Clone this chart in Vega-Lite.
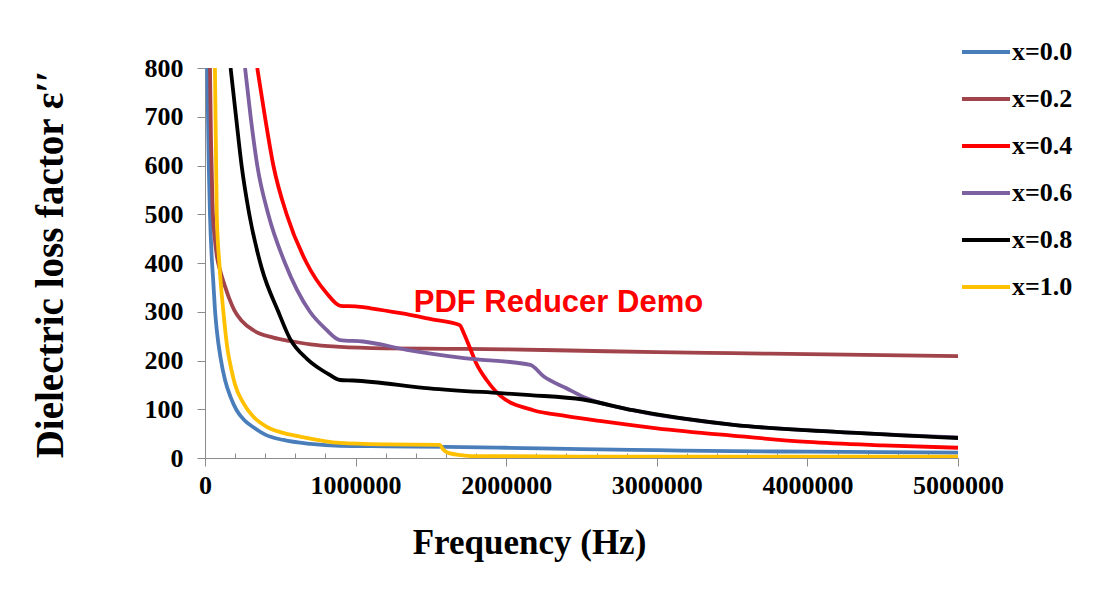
{
  "$schema": "https://vega.github.io/schema/vega-lite/v6.json",
  "autosize": {"type": "none"},
  "width": 753,
  "height": 390,
  "padding": {"left": 205, "top": 68, "right": 148, "bottom": 143},
  "background": "white",
  "config": {"view": {"stroke": null}},
  "resolve": {"axis": {"x": "independent"}},
  "datasets": {
    "curves": [
      {"series": "x=0.0", "f": 15000, "e": 800},
      {"series": "x=0.0", "f": 25000, "e": 600},
      {"series": "x=0.0", "f": 33000, "e": 500},
      {"series": "x=0.0", "f": 45000, "e": 410},
      {"series": "x=0.0", "f": 55000, "e": 362},
      {"series": "x=0.0", "f": 66000, "e": 305},
      {"series": "x=0.0", "f": 78000, "e": 263},
      {"series": "x=0.0", "f": 104000, "e": 204},
      {"series": "x=0.0", "f": 133000, "e": 160},
      {"series": "x=0.0", "f": 170000, "e": 125},
      {"series": "x=0.0", "f": 210000, "e": 98},
      {"series": "x=0.0", "f": 260000, "e": 78},
      {"series": "x=0.0", "f": 321000, "e": 63},
      {"series": "x=0.0", "f": 400000, "e": 48},
      {"series": "x=0.0", "f": 520000, "e": 37},
      {"series": "x=0.0", "f": 700000, "e": 29},
      {"series": "x=0.0", "f": 896000, "e": 25},
      {"series": "x=0.0", "f": 1200000, "e": 24},
      {"series": "x=0.0", "f": 1600000, "e": 23},
      {"series": "x=0.0", "f": 2000000, "e": 21},
      {"series": "x=0.0", "f": 2500000, "e": 18},
      {"series": "x=0.0", "f": 3000000, "e": 16},
      {"series": "x=0.0", "f": 3500000, "e": 14},
      {"series": "x=0.0", "f": 4000000, "e": 13},
      {"series": "x=0.0", "f": 4500000, "e": 12},
      {"series": "x=0.0", "f": 5000000, "e": 11},

      {"series": "x=0.2", "f": 33000, "e": 800},
      {"series": "x=0.2", "f": 40000, "e": 650},
      {"series": "x=0.2", "f": 50000, "e": 520},
      {"series": "x=0.2", "f": 65000, "e": 450},
      {"series": "x=0.2", "f": 80000, "e": 412},
      {"series": "x=0.2", "f": 100000, "e": 385},
      {"series": "x=0.2", "f": 133000, "e": 352},
      {"series": "x=0.2", "f": 160000, "e": 328},
      {"series": "x=0.2", "f": 195000, "e": 303},
      {"series": "x=0.2", "f": 245000, "e": 281},
      {"series": "x=0.2", "f": 321000, "e": 262},
      {"series": "x=0.2", "f": 454000, "e": 247},
      {"series": "x=0.2", "f": 564000, "e": 240},
      {"series": "x=0.2", "f": 700000, "e": 233},
      {"series": "x=0.2", "f": 896000, "e": 228},
      {"series": "x=0.2", "f": 1200000, "e": 225},
      {"series": "x=0.2", "f": 1600000, "e": 224},
      {"series": "x=0.2", "f": 2000000, "e": 223},
      {"series": "x=0.2", "f": 2500000, "e": 220},
      {"series": "x=0.2", "f": 3000000, "e": 217},
      {"series": "x=0.2", "f": 3500000, "e": 215},
      {"series": "x=0.2", "f": 4000000, "e": 213},
      {"series": "x=0.2", "f": 4500000, "e": 211},
      {"series": "x=0.2", "f": 5000000, "e": 209},

      {"series": "x=0.4", "f": 347000, "e": 800},
      {"series": "x=0.4", "f": 398000, "e": 700},
      {"series": "x=0.4", "f": 454000, "e": 600},
      {"series": "x=0.4", "f": 542000, "e": 500},
      {"series": "x=0.4", "f": 675000, "e": 400},
      {"series": "x=0.4", "f": 808000, "e": 338},
      {"series": "x=0.4", "f": 900000, "e": 312},
      {"series": "x=0.4", "f": 1000000, "e": 311},
      {"series": "x=0.4", "f": 1100000, "e": 307},
      {"series": "x=0.4", "f": 1300000, "e": 297},
      {"series": "x=0.4", "f": 1500000, "e": 285},
      {"series": "x=0.4", "f": 1690000, "e": 273},
      {"series": "x=0.4", "f": 1720000, "e": 255},
      {"series": "x=0.4", "f": 1760000, "e": 225},
      {"series": "x=0.4", "f": 1800000, "e": 195},
      {"series": "x=0.4", "f": 1870000, "e": 160},
      {"series": "x=0.4", "f": 1960000, "e": 128},
      {"series": "x=0.4", "f": 2180000, "e": 98},
      {"series": "x=0.4", "f": 2400000, "e": 86},
      {"series": "x=0.4", "f": 2620000, "e": 76},
      {"series": "x=0.4", "f": 3000000, "e": 61},
      {"series": "x=0.4", "f": 3500000, "e": 46},
      {"series": "x=0.4", "f": 4000000, "e": 33},
      {"series": "x=0.4", "f": 4500000, "e": 26},
      {"series": "x=0.4", "f": 5000000, "e": 21},

      {"series": "x=0.6", "f": 266000, "e": 800},
      {"series": "x=0.6", "f": 303000, "e": 700},
      {"series": "x=0.6", "f": 347000, "e": 600},
      {"series": "x=0.6", "f": 420000, "e": 500},
      {"series": "x=0.6", "f": 531000, "e": 400},
      {"series": "x=0.6", "f": 697000, "e": 300},
      {"series": "x=0.6", "f": 800000, "e": 265},
      {"series": "x=0.6", "f": 896000, "e": 242},
      {"series": "x=0.6", "f": 1050000, "e": 239},
      {"series": "x=0.6", "f": 1340000, "e": 222},
      {"series": "x=0.6", "f": 1720000, "e": 205},
      {"series": "x=0.6", "f": 2160000, "e": 191},
      {"series": "x=0.6", "f": 2250000, "e": 167},
      {"series": "x=0.6", "f": 2400000, "e": 143},
      {"series": "x=0.6", "f": 2530000, "e": 123},
      {"series": "x=0.6", "f": 2840000, "e": 98},
      {"series": "x=0.6", "f": 3510000, "e": 68},
      {"series": "x=0.6", "f": 4170000, "e": 54},
      {"series": "x=0.6", "f": 5000000, "e": 42},

      {"series": "x=0.8", "f": 170000, "e": 800},
      {"series": "x=0.8", "f": 206000, "e": 700},
      {"series": "x=0.8", "f": 243000, "e": 600},
      {"series": "x=0.8", "f": 294000, "e": 500},
      {"series": "x=0.8", "f": 376000, "e": 390},
      {"series": "x=0.8", "f": 487000, "e": 300},
      {"series": "x=0.8", "f": 564000, "e": 245},
      {"series": "x=0.8", "f": 675000, "e": 204},
      {"series": "x=0.8", "f": 742000, "e": 187},
      {"series": "x=0.8", "f": 820000, "e": 172},
      {"series": "x=0.8", "f": 896000, "e": 160},
      {"series": "x=0.8", "f": 985000, "e": 159},
      {"series": "x=0.8", "f": 1490000, "e": 143},
      {"series": "x=0.8", "f": 1960000, "e": 133},
      {"series": "x=0.8", "f": 2160000, "e": 129},
      {"series": "x=0.8", "f": 2510000, "e": 120},
      {"series": "x=0.8", "f": 2840000, "e": 98},
      {"series": "x=0.8", "f": 3510000, "e": 68},
      {"series": "x=0.8", "f": 4170000, "e": 54},
      {"series": "x=0.8", "f": 5000000, "e": 41},

      {"series": "x=1.0", "f": 66000, "e": 800},
      {"series": "x=1.0", "f": 72000, "e": 650},
      {"series": "x=1.0", "f": 78000, "e": 500},
      {"series": "x=1.0", "f": 95000, "e": 400},
      {"series": "x=1.0", "f": 122000, "e": 300},
      {"series": "x=1.0", "f": 150000, "e": 222},
      {"series": "x=1.0", "f": 166000, "e": 195},
      {"series": "x=1.0", "f": 200000, "e": 150},
      {"series": "x=1.0", "f": 254000, "e": 113},
      {"series": "x=1.0", "f": 320000, "e": 85},
      {"series": "x=1.0", "f": 410000, "e": 64},
      {"series": "x=1.0", "f": 500000, "e": 53},
      {"series": "x=1.0", "f": 631000, "e": 44},
      {"series": "x=1.0", "f": 896000, "e": 31},
      {"series": "x=1.0", "f": 1200000, "e": 28},
      {"series": "x=1.0", "f": 1560000, "e": 27},
      {"series": "x=1.0", "f": 1580000, "e": 18},
      {"series": "x=1.0", "f": 1620000, "e": 10},
      {"series": "x=1.0", "f": 1700000, "e": 6},
      {"series": "x=1.0", "f": 1780000, "e": 4},
      {"series": "x=1.0", "f": 2500000, "e": 3},
      {"series": "x=1.0", "f": 5000000, "e": 3}
    ],
    "note": [
      {"f": 2347000, "e": 300, "label": "PDF Reducer Demo"}
    ]
  },
  "layer": [
    {
      "data": {"name": "curves"},
      "mark": {"type": "line", "strokeWidth": 3.8, "interpolate": "monotone", "clip": true},
      "encoding": {
        "x": {
          "field": "f", "type": "quantitative",
          "scale": {"domain": [0, 5000000], "nice": false},
          "axis": {
            "orient": "bottom",
            "values": [0, 1000000, 2000000, 3000000, 4000000, 5000000],
            "format": "d",
            "labelOverlap": false,
            "labelFlush": false,
            "tickSize": 8,
            "grid": false,
            "domainColor": "#8c8c8c",
            "tickColor": "#8c8c8c",
            "labelFont": "Liberation Serif",
            "labelFontWeight": "bold",
            "labelFontSize": 26,
            "labelColor": "#000000",
            "labelPadding": 6,
            "title": "Frequency (Hz)",
            "titleFont": "Liberation Serif",
            "titleFontWeight": "bold",
            "titleFontSize": 35,
            "titleColor": "#000000",
            "titleX": 324,
            "titleY": 95,
            "titleAlign": "center",
            "titleBaseline": "alphabetic"
          }
        },
        "y": {
          "field": "e", "type": "quantitative",
          "scale": {"domain": [0, 800], "nice": false},
          "axis": {
            "values": [0, 100, 200, 300, 400, 500, 600, 700, 800],
            "grid": false,
            "tickSize": 8,
            "domainColor": "#8c8c8c",
            "tickColor": "#8c8c8c",
            "labelFont": "Liberation Serif",
            "labelFontWeight": "bold",
            "labelFontSize": 26,
            "labelColor": "#000000",
            "labelPadding": 14,
            "title": "Dielectric loss factor ε′′",
            "titleFont": "Liberation Serif",
            "titleFontWeight": "bold",
            "titleFontSize": 39,
            "titleColor": "#000000",
            "titleAngle": -90,
            "titleX": -143,
            "titleY": 196,
            "titleAlign": "center",
            "titleBaseline": "alphabetic"
          }
        },
        "color": {
          "field": "series", "type": "nominal",
          "scale": {
            "domain": ["x=0.0", "x=0.2", "x=0.4", "x=0.6", "x=0.8", "x=1.0"],
            "range": ["#4A7EBB", "#A0434A", "#FF0000", "#7D60A0", "#000000", "#FFC000"]
          },
          "legend": {
            "orient": "none",
            "legendX": 755,
            "legendY": -42,
            "title": null,
            "symbolType": "stroke",
            "symbolSize": 2304,
            "symbolStrokeWidth": 4,
            "labelFont": "Liberation Serif",
            "labelFontWeight": "bold",
            "labelFontSize": 26,
            "labelColor": "#000000",
            "labelOffset": 0,
            "rowPadding": 8,
            "padding": 0
          }
        }
      }
    },
    {
      "data": {"name": "note"},
      "mark": {"type": "text", "font": "Liberation Sans", "fontWeight": "bold", "fontSize": 31, "color": "#FF0000", "align": "center", "baseline": "alphabetic"},
      "encoding": {
        "x": {
          "field": "f", "type": "quantitative",
          "axis": {
            "orient": "bottom",
            "values": [200000, 400000, 600000, 800000, 1200000, 1400000, 1600000, 1800000, 2200000, 2400000, 2600000, 2800000, 3200000, 3400000, 3600000, 3800000, 4200000, 4400000, 4600000, 4800000],
            "labels": false,
            "domain": false,
            "grid": false,
            "tickSize": -5,
            "tickColor": "#8c8c8c",
            "title": null
          }
        },
        "y": {"field": "e", "type": "quantitative"},
        "text": {"field": "label"}
      }
    }
  ]
}
